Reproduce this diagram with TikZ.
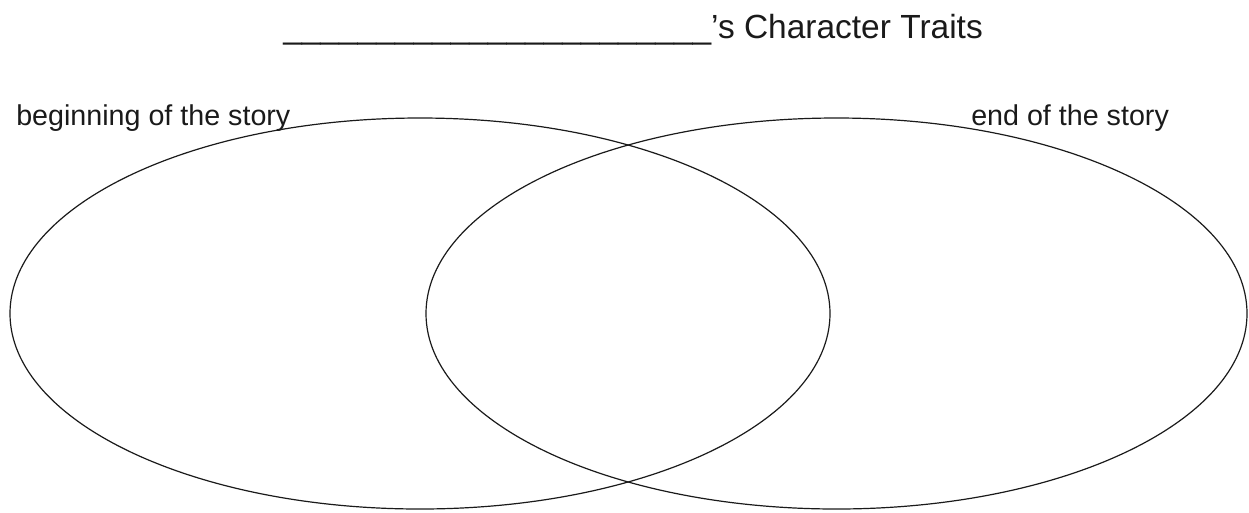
\documentclass[tikz,border=0pt]{standalone}
\usepackage{fontspec}
\setmainfont{Liberation Sans}
\usepackage{xcolor}
\usepackage{tikz}
\usetikzlibrary{positioning}
\definecolor{mInk}{HTML}{1A1A1A}

\begin{document}
\begin{tikzpicture}[x=0.75pt,y=-0.75pt,
  vennLine/.style={draw=mInk,line width=0.9pt},
  storyLabel/.style={anchor=base west,inner sep=0pt,text=mInk,font=\fontsize{21.5}{26}\selectfont}]
\useasboundingbox (0,0) rectangle (1249,512);

\node[anchor=base west,inner sep=0pt,text=mInk,font=\fontsize{25.1}{30}\selectfont] (title) at (283,38)
  {\_\_\_\_\_\_\_\_\_\_\_\_\_\_\_\_\_\_\_\_\_\_\_’s Character Traits};

% two overlapping sets
\draw[vennLine] (420,313.5) ellipse [x radius=410, y radius=195.5];
\draw[vennLine] (836.5,313.5) ellipse [x radius=410.5, y radius=195.5];

\node[storyLabel] (beginLabel) at (16,125) {beginning of the story};
\node[storyLabel] (endLabel) at (971,125) {end of the story};
\end{tikzpicture}
\end{document}
